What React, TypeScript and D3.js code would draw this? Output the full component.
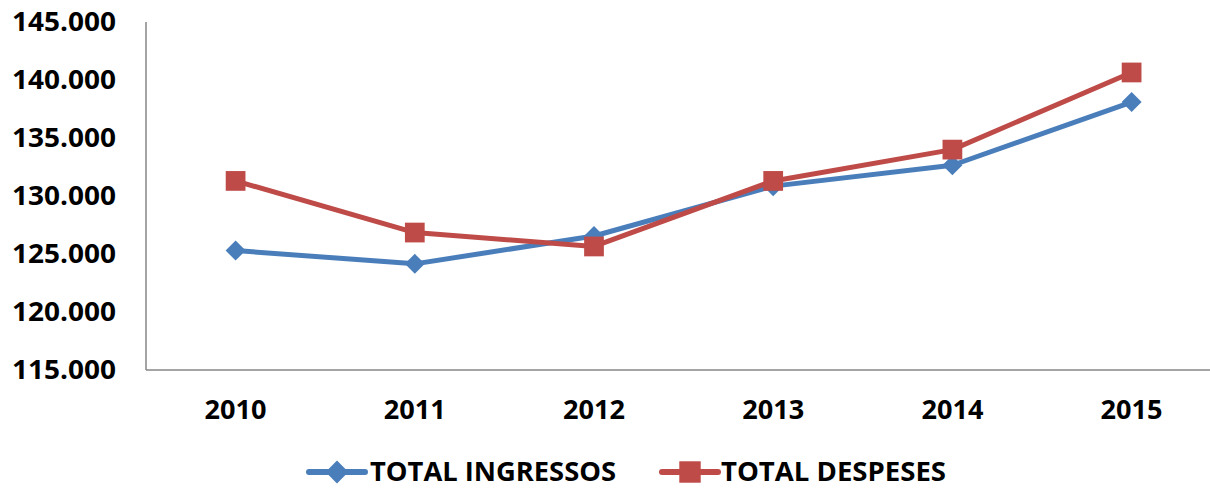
import { useRef, useEffect } from "react";
import * as d3 from "d3";

const years = ["2010", "2011", "2012", "2013", "2014", "2015"];
const ingressos = [125300, 124150, 126550, 130850, 132650, 138100];
const despeses = [131300, 126850, 125650, 131300, 134000, 140650];
const yTicks = [115000, 120000, 125000, 130000, 135000, 140000, 145000];

export default function App() {
    const ref = useRef<SVGSVGElement>(null);

    // Chart attributes
    const chartAttr = {
        width: 1210,
        height: 489,
        left: 146,
        top: 22,
        bottom: 370,
        band: 179.2
    };

    useEffect(() => {
        const svg = d3.select(ref.current);
        svg.selectAll("*").remove();

        const font = "'Open Sans', 'Liberation Sans', sans-serif";

        const yScale = d3.scaleLinear()
            .domain([115000, 145000])
            .range([chartAttr.bottom, chartAttr.top]);

        const xBand = d3.scaleBand()
            .domain(years)
            .range([chartAttr.left, chartAttr.left + chartAttr.band * years.length])
            .padding(0);

        const xc = (d: string) => (xBand(d) as number) + xBand.bandwidth() / 2;

        // axes lines
        svg.append("line")
            .attr("x1", chartAttr.left).attr("x2", chartAttr.left)
            .attr("y1", chartAttr.top).attr("y2", chartAttr.bottom)
            .attr("stroke", "#868686").attr("stroke-width", 1.5);
        svg.append("line")
            .attr("x1", chartAttr.left).attr("x2", chartAttr.width)
            .attr("y1", chartAttr.bottom).attr("y2", chartAttr.bottom)
            .attr("stroke", "#868686").attr("stroke-width", 1.5);

        // y tick labels
        const fmt = (v: number) => d3.format(",")(v).replace(/,/g, ".");
        svg.append("g")
            .selectAll("text")
            .data(yTicks)
            .enter()
            .append("text")
            .attr("x", 116)
            .attr("y", d => yScale(d))
            .attr("dy", "0.35em")
            .attr("text-anchor", "end")
            .style("font-family", font)
            .style("font-weight", "bold")
            .style("font-size", "27px")
            .attr("textLength", 104)
            .attr("lengthAdjust", "spacingAndGlyphs")
            .text(d => fmt(d));

        // x tick labels
        svg.append("g")
            .selectAll("text")
            .data(years)
            .enter()
            .append("text")
            .attr("x", d => xc(d))
            .attr("y", 410)
            .attr("dy", "0.35em")
            .attr("text-anchor", "middle")
            .style("font-family", font)
            .style("font-weight", "bold")
            .style("font-size", "27px")
            .attr("textLength", 62)
            .attr("lengthAdjust", "spacingAndGlyphs")
            .text(d => d);

        const series = [
            { name: "TOTAL INGRESSOS", values: ingressos, color: "#4a7ebb", rot: 45, size: 200, legSize: 260 },
            { name: "TOTAL DESPESES", values: despeses, color: "#be4b48", rot: 0, size: 390, legSize: 460 }
        ];

        const line = d3.line<number>()
            .x((d, i) => xc(years[i]))
            .y(d => yScale(d));

        series.forEach(s => {
            svg.append("path")
                .datum(s.values)
                .attr("fill", "none")
                .attr("stroke", s.color)
                .attr("stroke-width", 5)
                .attr("stroke-linejoin", "round")
                .attr("d", line);

            const sym = d3.symbol().type(d3.symbolSquare).size(s.size);
            svg.append("g")
                .selectAll("path")
                .data(s.values)
                .enter()
                .append("path")
                .attr("transform", (d, i) => `translate(${xc(years[i])},${yScale(d)}) rotate(${s.rot})`)
                .attr("fill", s.color)
                .attr("d", sym());
        });

        // legend
        const legend = [
            { x: 309, textX: 370, textW: 246 },
            { x: 662, textX: 721, textW: 225 }
        ];
        const ly = 472;
        series.forEach((s, i) => {
            const g = svg.append("g");
            const l = legend[i];
            g.append("line")
                .attr("x1", l.x).attr("x2", l.x + 56)
                .attr("y1", ly).attr("y2", ly)
                .attr("stroke", s.color).attr("stroke-width", 6)
                .attr("stroke-linecap", "round");
            g.append("path")
                .attr("transform", `translate(${l.x + 28},${ly}) rotate(${s.rot})`)
                .attr("fill", s.color)
                .attr("d", d3.symbol().type(d3.symbolSquare).size(s.legSize)());
            g.append("text")
                .attr("x", l.textX)
                .attr("y", ly)
                .attr("dy", "0.36em")
                .style("font-family", font)
                .style("font-weight", "bold")
                .style("font-size", "26px")
                .attr("textLength", l.textW)
                .attr("lengthAdjust", "spacingAndGlyphs")
                .text(s.name);
        });
    }, []);

    return (
        <svg
            ref={ref}
            width={chartAttr.width}
            height={chartAttr.height}
            style={{ position: "absolute", left: 0, top: 0, background: "#fff" }}
        />
    );
}
